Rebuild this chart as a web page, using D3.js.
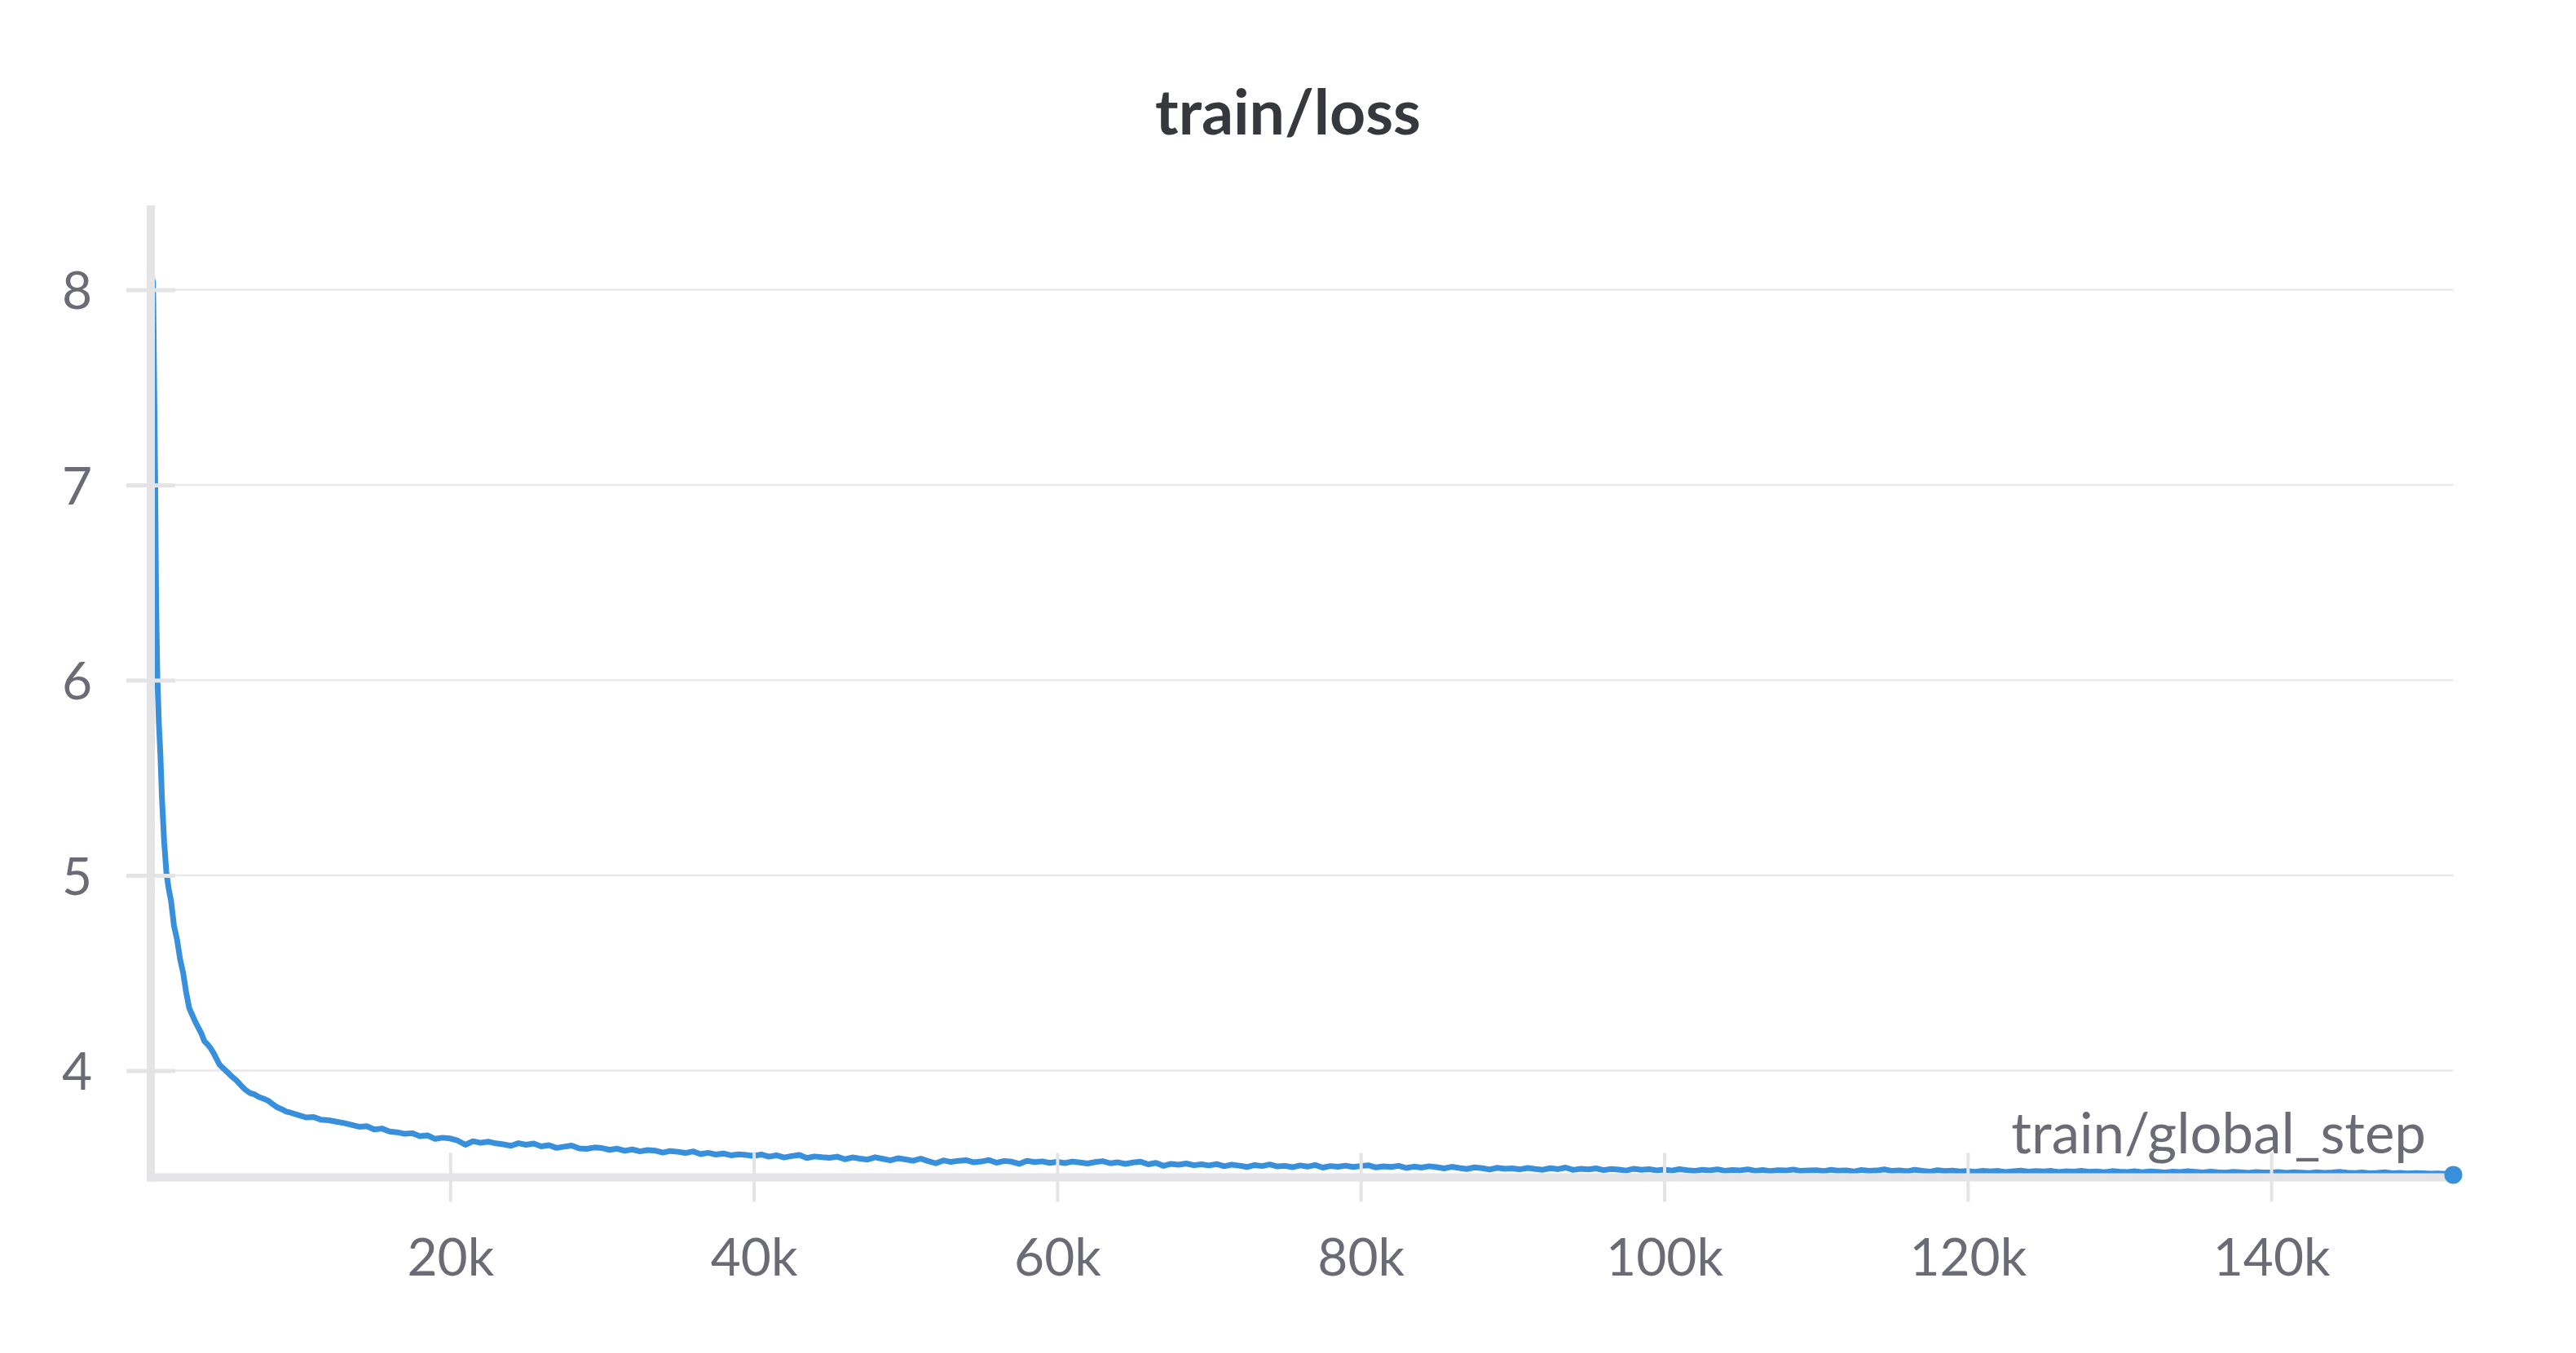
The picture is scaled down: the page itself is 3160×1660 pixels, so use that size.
<!DOCTYPE html>
<html><head><meta charset="utf-8">
<script src="https://cdn.jsdelivr.net/npm/d3@7"></script>
<style>html,body{margin:0;padding:0;background:#fff;} svg{display:block;}</style>
</head><body>
<svg id="chart" width="3160" height="1660"></svg>
<script>
const chartTitle = "train/loss";
const xAxisTitle = "train/global_step";
const yTickValues = [4, 5, 6, 7, 8];
const yTickLabels = ["4", "5", "6", "7", "8"];
const xTickValues = [20000, 40000, 60000, 80000, 100000, 120000, 140000];
const xTickLabels = ["20k", "40k", "60k", "80k", "100k", "120k", "140k"];

// early steps (steep part), read by hand
const earlySteps = [300, 420, 560, 620, 700, 800, 900, 1000, 1150, 1300, 1450, 1600, 1800, 2000, 2200, 2400, 2600, 2800, 3000, 3200, 3400, 3600, 3800, 4000, 4200, 4400, 4600, 4800, 5000, 5300, 5600, 5900, 6200, 6500, 6800, 7100, 7400, 7700, 8000, 8300, 8600, 8900, 9200, 9500];
const earlyLoss = [8.07, 8.04, 7.00, 6.40, 6.02, 5.78, 5.62, 5.40, 5.17, 5.01, 4.93, 4.87, 4.74, 4.67, 4.57, 4.50, 4.40, 4.32, 4.285, 4.25, 4.22, 4.19, 4.15, 4.135, 4.115, 4.09, 4.06, 4.03, 4.015, 3.993, 3.97, 3.95, 3.925, 3.902, 3.885, 3.878, 3.864, 3.856, 3.846, 3.828, 3.812, 3.802, 3.79, 3.784];

// later steps, logged every 500 steps from 10k
const lateStartStep = 10000;
const lateStepInterval = 500;
const lateLoss = [
  3.772, 3.760, 3.762, 3.748, 3.745, 3.738, 3.731, 3.722, 3.712, 3.715,
  3.698, 3.703, 3.688, 3.684, 3.676, 3.679, 3.664, 3.668, 3.650, 3.656,
  3.652, 3.641, 3.620, 3.638, 3.630, 3.636, 3.627, 3.622, 3.615, 3.628,
  3.620, 3.626, 3.612, 3.618, 3.604, 3.610, 3.616, 3.601, 3.599, 3.606,
  3.603, 3.594, 3.600, 3.589, 3.596, 3.586, 3.593, 3.590, 3.580, 3.588,
  3.584, 3.578, 3.586, 3.572, 3.579, 3.570, 3.575, 3.566, 3.571, 3.568,
  3.563, 3.570, 3.559, 3.566, 3.555, 3.562, 3.568, 3.552, 3.560, 3.556,
  3.553, 3.559, 3.546, 3.555, 3.549, 3.544, 3.556, 3.548, 3.540, 3.551,
  3.545, 3.538, 3.549, 3.536, 3.525, 3.540, 3.532, 3.538, 3.541, 3.530,
  3.534, 3.542, 3.528, 3.537, 3.533, 3.522, 3.538, 3.531, 3.535, 3.527,
  3.532, 3.526, 3.534, 3.529, 3.524, 3.531, 3.536, 3.525, 3.530, 3.522,
  3.529, 3.533, 3.520, 3.527, 3.512, 3.522, 3.518, 3.524, 3.515, 3.520,
  3.514, 3.521, 3.510, 3.518, 3.513, 3.506, 3.516, 3.511, 3.519, 3.509,
  3.512, 3.505, 3.514, 3.508, 3.516, 3.503, 3.511, 3.507, 3.513, 3.506,
  3.511, 3.515, 3.504, 3.509, 3.506, 3.512, 3.501, 3.508, 3.503, 3.510,
  3.505, 3.499, 3.507, 3.501, 3.496, 3.504, 3.500, 3.493, 3.502, 3.497,
  3.499, 3.494, 3.501, 3.496, 3.492, 3.500, 3.495, 3.503, 3.491, 3.497,
  3.494, 3.499, 3.490, 3.496, 3.493, 3.488, 3.497, 3.492, 3.495, 3.489,
  3.493, 3.488, 3.495, 3.490, 3.486, 3.492, 3.489, 3.494, 3.487, 3.491,
  3.489, 3.494, 3.487, 3.491, 3.485, 3.490, 3.488, 3.493, 3.486, 3.489,
  3.490, 3.485, 3.492, 3.487, 3.489, 3.483, 3.491, 3.486, 3.488, 3.494,
  3.486, 3.489, 3.484, 3.492, 3.487, 3.482, 3.490, 3.485, 3.488, 3.483,
  3.485, 3.481, 3.487, 3.483, 3.486, 3.480, 3.484, 3.488, 3.482, 3.485,
  3.483, 3.486, 3.480, 3.484, 3.482, 3.487, 3.481, 3.483, 3.479, 3.485,
  3.482, 3.480, 3.484, 3.479, 3.483, 3.481, 3.478, 3.482, 3.480, 3.484,
  3.481, 3.478, 3.482, 3.479, 3.477, 3.481, 3.479, 3.476, 3.480, 3.478,
  3.478, 3.480, 3.476, 3.479, 3.477, 3.475, 3.479, 3.476, 3.478, 3.481,
  3.477, 3.475, 3.478, 3.474, 3.476, 3.479, 3.474, 3.476, 3.473, 3.475,
  3.474, 3.472, 3.473, 3.471, 3.466
];

const lineColor = "#3890dc";
const axisColor = "#e4e4e7";
const gridColor = "#e9e9eb";
const labelColor = "#6b6b76";
const titleColor = "#35383d";
const fontFamily = "Lato, 'Noto Sans', sans-serif";

const data = earlySteps.map((s, i) => ({step: s, loss: earlyLoss[i]}))
  .concat(lateLoss.map((v, i) => ({step: lateStartStep + i * lateStepInterval, loss: v})));
const lastPoint = data[data.length - 1];

const svg = d3.select("#chart");
svg.append("rect").attr("width", 3160).attr("height", 1660).attr("fill", "#fff");

const x = d3.scaleLinear().domain([0, 152000]).range([180, 3009.5]);
const y = d3.scaleLinear().domain([3.453, 8.432]).range([1444.5, 252]);

// title
svg.append("text").attr("x", 1580).attr("y", 165).attr("text-anchor", "middle")
  .attr("font-family", fontFamily).attr("font-weight", 700).attr("font-size", 77)
  .attr("fill", titleColor).text(chartTitle);

// gridlines
svg.append("g").selectAll("line").data(yTickValues).join("line")
  .attr("x1", 185).attr("x2", x.range()[1])
  .attr("y1", d => y(d)).attr("y2", d => y(d))
  .attr("stroke", gridColor).attr("stroke-width", 2.5);

// line
const line = d3.line().x(d => x(d.step)).y(d => y(d.loss)).curve(d3.curveLinear);
svg.append("path").datum(data).attr("d", line)
  .attr("fill", "none").attr("stroke", lineColor).attr("stroke-width", 7)
  .attr("stroke-linejoin", "round").attr("stroke-linecap", "butt");

// axis lines
svg.append("line").attr("x1", 185).attr("x2", 185).attr("y1", 252).attr("y2", 1449.5)
  .attr("stroke", axisColor).attr("stroke-width", 10);
svg.append("line").attr("x1", 180).attr("x2", x.range()[1]).attr("y1", 1444.5).attr("y2", 1444.5)
  .attr("stroke", axisColor).attr("stroke-width", 10);

// y ticks
const yAxis = d3.axisLeft(y).tickValues(yTickValues).tickFormat((d, i) => yTickLabels[i]).tickSize(0).tickPadding(72);
const gy = svg.append("g").attr("transform", "translate(185,0)").call(yAxis);
gy.select(".domain").remove();
gy.selectAll(".tick").append("line").attr("x1", -30).attr("x2", 30)
  .attr("stroke", axisColor).attr("stroke-width", 5);
gy.selectAll(".tick text").attr("font-family", fontFamily).attr("font-size", 64)
  .attr("fill", labelColor).attr("dy", "0.36em");

// x ticks
const xAxis = d3.axisBottom(x).tickValues(xTickValues).tickFormat((d, i) => xTickLabels[i]).tickSize(0).tickPadding(0);
const gx = svg.append("g").attr("transform", "translate(0,1444.5)").call(xAxis);
gx.select(".domain").remove();
gx.selectAll(".tick").append("line").attr("y1", -30).attr("y2", 30)
  .attr("stroke", axisColor).attr("stroke-width", 4);
gx.selectAll(".tick text").attr("font-family", fontFamily).attr("font-size", 64)
  .attr("fill", labelColor).attr("dy", null).attr("y", 120);

// x axis title
svg.append("text").attr("x", 2976).attr("y", 1415).attr("text-anchor", "end")
  .attr("font-family", fontFamily).attr("font-size", 69).attr("fill", labelColor)
  .text(xAxisTitle);

// end dot
svg.append("circle").attr("cx", x(lastPoint.step)).attr("cy", y(lastPoint.loss)).attr("r", 11)
  .attr("fill", lineColor);
</script>
</body></html>
